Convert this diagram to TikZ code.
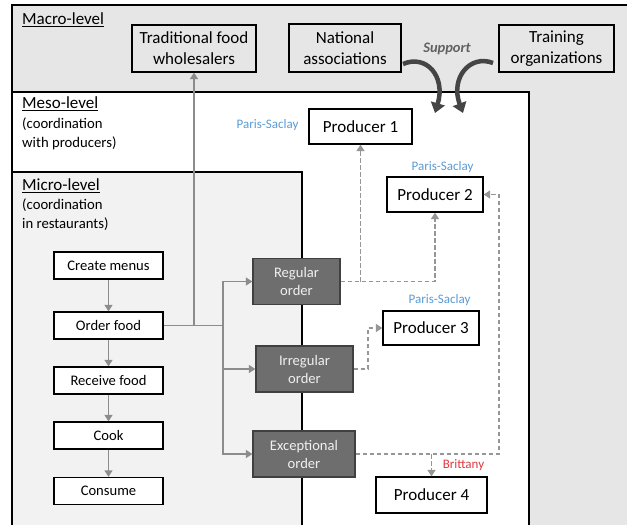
\documentclass[tikz,border=0pt]{standalone}
\usepackage{fontspec}
\setmainfont{Carlito}
\usetikzlibrary{arrows.meta}
\definecolor{bggray}{HTML}{E6E6E6}
\definecolor{microgray}{HTML}{F2F2F2}
\definecolor{darkbox}{HTML}{6E6E6E}
\definecolor{linegray}{HTML}{8C8C8C}
\definecolor{dashgray}{HTML}{969696}
\definecolor{sayblue}{HTML}{5B9BD5}
\definecolor{brred}{HTML}{DF3A40}
\definecolor{supportgray}{HTML}{454545}
\begin{document}
\begin{tikzpicture}[x=1pt,y=-1pt,
  box/.style={draw=black, line width=1.3pt, inner sep=0pt, align=center},
  stepbox/.style={box, fill=white, minimum width=109pt, minimum height=27pt, font=\fontsize{14.6}{18}\selectfont},
  ordbox/.style={draw=black!75, line width=1.3pt, fill=darkbox, text=white!94!black, minimum height=46pt, inner sep=0pt, align=center, font=\fontsize{14.6}{18}\selectfont},
  prodbox/.style={box, fill=white, minimum height=35pt, font=\fontsize{17}{20}\selectfont},
  macrobox/.style={box, fill=bggray, minimum height=47pt, font=\fontsize{17}{21}\selectfont},
  leveltitle/.style={anchor=west, inner sep=0pt, font=\fontsize{17}{20}\selectfont},
  levelsub/.style={anchor=north west, inner sep=0pt, align=left, font=\fontsize{14.7}{18.5}\selectfont},
  place/.style={inner sep=0pt, font=\fontsize{13}{15}\selectfont},
  flowline/.style={draw=linegray, line width=1.6pt},
  flow/.style={flowline, -{Triangle[width=8pt,length=6.5pt]}},
  dflow/.style={draw=dashgray, line width=1.6pt, dash pattern=on 4.5pt off 2.5pt, -{Triangle[width=8pt,length=6.5pt]}},
  support/.style={draw=supportgray, line width=4.5pt, -{Triangle[width=14pt,length=10pt]}}
]
\useasboundingbox (0,0) rectangle (627,525);
\clip (0,0) rectangle (627,525);
% level frames
\draw[line width=1.5pt, fill=bggray] (12,5) rectangle (640,540);
\draw[line width=1.5pt, fill=white] (12,92) rectangle (529,540);
\draw[line width=1.5pt, fill=microgray] (12,172) rectangle (302,540);

% level labels
\node[leveltitle] (macro) at (22,20) {\underline{Macro-level}};
\node[leveltitle] (meso) at (22,104) {\underline{Meso-level}};
\node[levelsub] (mesosub) at (22,118) {(coordination\\with producers)};
\node[leveltitle] (micro) at (22,186) {\underline{Micro-level}};
\node[levelsub] (microsub) at (22,199) {(coordination\\in restaurants)};

% macro boxes
\node[macrobox, minimum width=124pt] (trad) at (194,48.5) {Traditional food\\wholesalers};
\node[macrobox, minimum width=112pt, minimum height=48pt] (nat) at (345,48) {National\\associations};
\node[macrobox, minimum width=115pt] (train) at (556.5,48.5) {Training\\organizations};
\node[inner sep=0pt, text=supportgray!85!white, font=\fontsize{14.5}{16}\selectfont\bfseries\itshape] (supp) at (447,49) {Support};

% micro steps
\node[stepbox] (create) at (108.5,265.5) {Create menus};
\node[stepbox] (order) at (108.5,325.5) {Order food};
\node[stepbox] (receive) at (108.5,380.5) {Receive food};
\node[stepbox] (cook) at (108.5,435.5) {Cook};
\node[stepbox] (consume) at (108.5,491) {Consume};

% order types
\node[ordbox, minimum width=87pt] (reg) at (296.5,281.5) {Regular\\order};
\node[ordbox, minimum width=97pt] (irr) at (304.5,369) {Irregular\\order};
\node[ordbox, minimum width=102pt] (exc) at (304,454) {Exceptional\\order};

% producers
\node[prodbox, minimum width=103pt] (p1) at (360.5,126.5) {Producer 1};
\node[prodbox, minimum width=96pt] (p2) at (435,194.5) {Producer 2};
\node[prodbox, minimum width=96pt, minimum height=34pt] (p3) at (431,328) {Producer 3};
\node[prodbox, minimum width=111pt, minimum height=36pt] (p4) at (431.5,495) {Producer 4};

% place labels
\node[place, text=sayblue] (ps1) at (267.5,125) {Paris-Saclay};
\node[place, text=sayblue] (ps2) at (442.5,167) {Paris-Saclay};
\node[place, text=sayblue] (ps3) at (439.5,300) {Paris-Saclay};
\node[place, text=brred] (brit) at (463.5,465) {Brittany};

% micro flow
\draw[flow] (create) -- (order);
\draw[flow] (order) -- (receive);
\draw[flow] (receive) -- (cook);
\draw[flow] (cook) -- (consume);

\coordinate (jA) at (194,325.5);
\coordinate (jB) at (223,325.5);
\draw[flowline] (order.east) -- (jB);
\draw[flow] (jA) -- (trad.south);
\draw[flow] (jB) |- (reg.west);
\draw[flow] (jB) |- (irr.west);
\draw[flow] (jB) |- (exc.west);

% dashed orders to producers
\coordinate (iK) at (368,369);
\coordinate (eK) at (499,454);
\draw[dflow] (reg.east) -| (p2.south);
\draw[dflow] (reg.east -| p1.south) -- (p1.south);
\draw[dflow] (irr.east) -- (iK) |- (p3.west);
\draw[dflow] (exc.east) -- (eK) |- (p2.east);
\draw[dflow] (exc.east -| p4.north) -- (p4.north);

% support arrows
\coordinate (s1) at (403,64);
\coordinate (s1e) at (435,113);
\coordinate (s2) at (493,63);
\coordinate (s2e) at (463,113);
\draw[support] (s1) .. controls (426,54) and (446,76) .. (s1e);
\draw[support] (s2) .. controls (470,54) and (450,78) .. (s2e);
\end{tikzpicture}
\end{document}
